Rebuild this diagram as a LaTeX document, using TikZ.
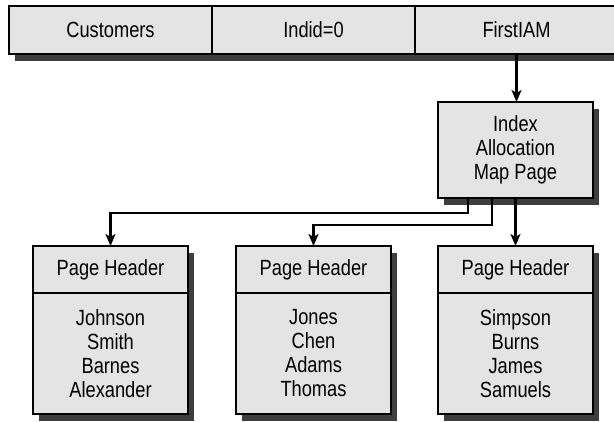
\documentclass[tikz,border=0pt]{standalone}
\usepackage{fontspec}
\setmainfont[FakeStretch=0.83]{Liberation Sans}
\usetikzlibrary{shadows,arrows.meta}
\definecolor{boxgray}{HTML}{E4E4E4}
\definecolor{shadowgray}{HTML}{3E3E3E}
\begin{document}
\begin{tikzpicture}[x=1pt,y=-1pt,font=\fontsize{22}{24}\selectfont,
  shad/.style={drop shadow={shadow xshift=6pt,shadow yshift=-7pt,fill=shadowgray,opacity=1}},
  boxstyle/.style={draw=black,line width=1.6pt,fill=boxgray,inner sep=0pt,outer sep=0pt,align=center},
  pagebox/.style={boxstyle,shad,minimum width=155pt,minimum height=168pt},
  headbox/.style={boxstyle,minimum width=155pt,minimum height=47pt,anchor=north},
  cell/.style={boxstyle,minimum width=203pt,minimum height=48pt},
  conn/.style={line width=2.1pt,-{Stealth[length=12pt,width=10pt,inset=3pt]}}]
\useasboundingbox (0,0) rectangle (614,421);
% top bar
\node[boxstyle,shad,minimum width=609pt,minimum height=48pt] (bar) at (313.5,30) {};
\node[cell] (c1) at (110.5,30) {Customers};
\node[cell] (c2) at (313.5,30) {Indid=0};
\node[cell] (c3) at (516.5,30) {FirstIAM};
% IAM
\node[boxstyle,shad,minimum width=155pt,minimum height=96pt] (iam) at (515.5,150) {Index\\Allocation\\Map Page};
% pages
\node[pagebox] (p1) at (110.5,330) {};
\node[headbox] (h1) at (p1.north) {Page Header};
\node[align=center] (n1) at (110.5,353.5) {Johnson\\Smith\\Barnes\\Alexander};
\node[pagebox] (p2) at (313.5,330) {};
\node[headbox] (h2) at (p2.north) {Page Header};
\node[align=center] (n2) at (313.5,353.5) {Jones\\Chen\\Adams\\Thomas};
\node[pagebox] (p3) at (515.5,330) {};
\node[headbox] (h3) at (p3.north) {Page Header};
\node[align=center] (n3) at (515.5,353.5) {Simpson\\Burns\\James\\Samuels};
% connectors
\draw[conn] (c3.south) -- (c3.south |- iam.north);
\draw[conn] ([xshift=-47.5pt]iam.south) -- ++(0,15) -| (h1.north);
\draw[conn] ([xshift=-23.5pt]iam.south) -- ++(0,27) -| (h2.north);
\draw[conn] (iam.south) -- (h3.north);
\end{tikzpicture}
\end{document}
